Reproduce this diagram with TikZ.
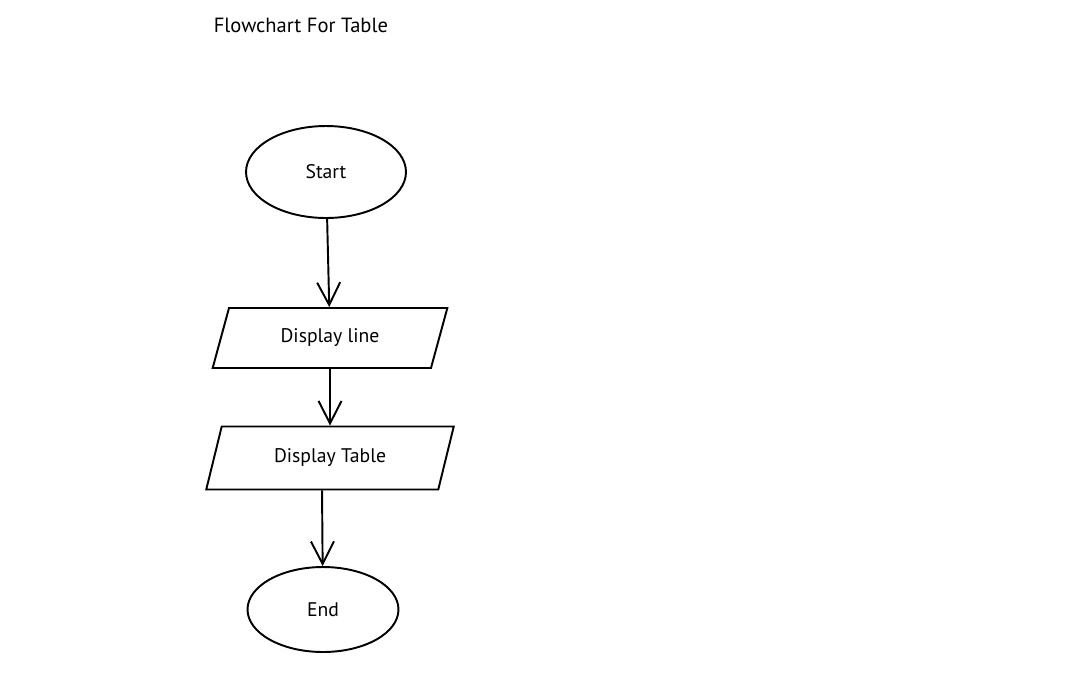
\documentclass[tikz,border=0pt]{standalone}
\usepackage{fontspec}
\setmainfont{PT Sans}
\usetikzlibrary{shapes.geometric,arrows.meta}
\begin{document}
\begin{tikzpicture}[x=0.02cm,y=-0.02cm,line width=1.1pt,
		term/.style={draw,ellipse,inner sep=0pt,font=\fontsize{11.2}{13}\selectfont},
		io/.style={draw,trapezium,trapezium left angle=66,trapezium right angle=114,trapezium stretches=true,inner sep=0pt,font=\fontsize{11.2}{13}\selectfont},
		flow/.style={-{Straight Barb[length=4.5mm,width=4.6mm,line width=1.1pt]}}]
			\useasboundingbox (0,0) rectangle (1080,698);
			\node[anchor=west,font=\fontsize{11.7}{14}\selectfont] (title) at (207,25) {Flowchart For Table};
			\node[term,minimum width=3.2cm,minimum height=1.84cm] (start) at (326,172) {Start};
			\node[io,minimum width=4.7cm,minimum height=1.2cm] (dline) at (330,338) {Display line};
			\node[io,minimum width=4.96cm,minimum height=1.26cm] (dtable) at (330,458) {Display Table};
			\node[term,minimum width=3.02cm,minimum height=1.7cm] (end) at (323,609.5) {End};
			\draw[flow] (start) -- (dline);
			\draw[flow] (dline) -- (dtable);
			\draw[flow] (dtable.bottom side) -- (end);
	\end{tikzpicture}
\end{document}
